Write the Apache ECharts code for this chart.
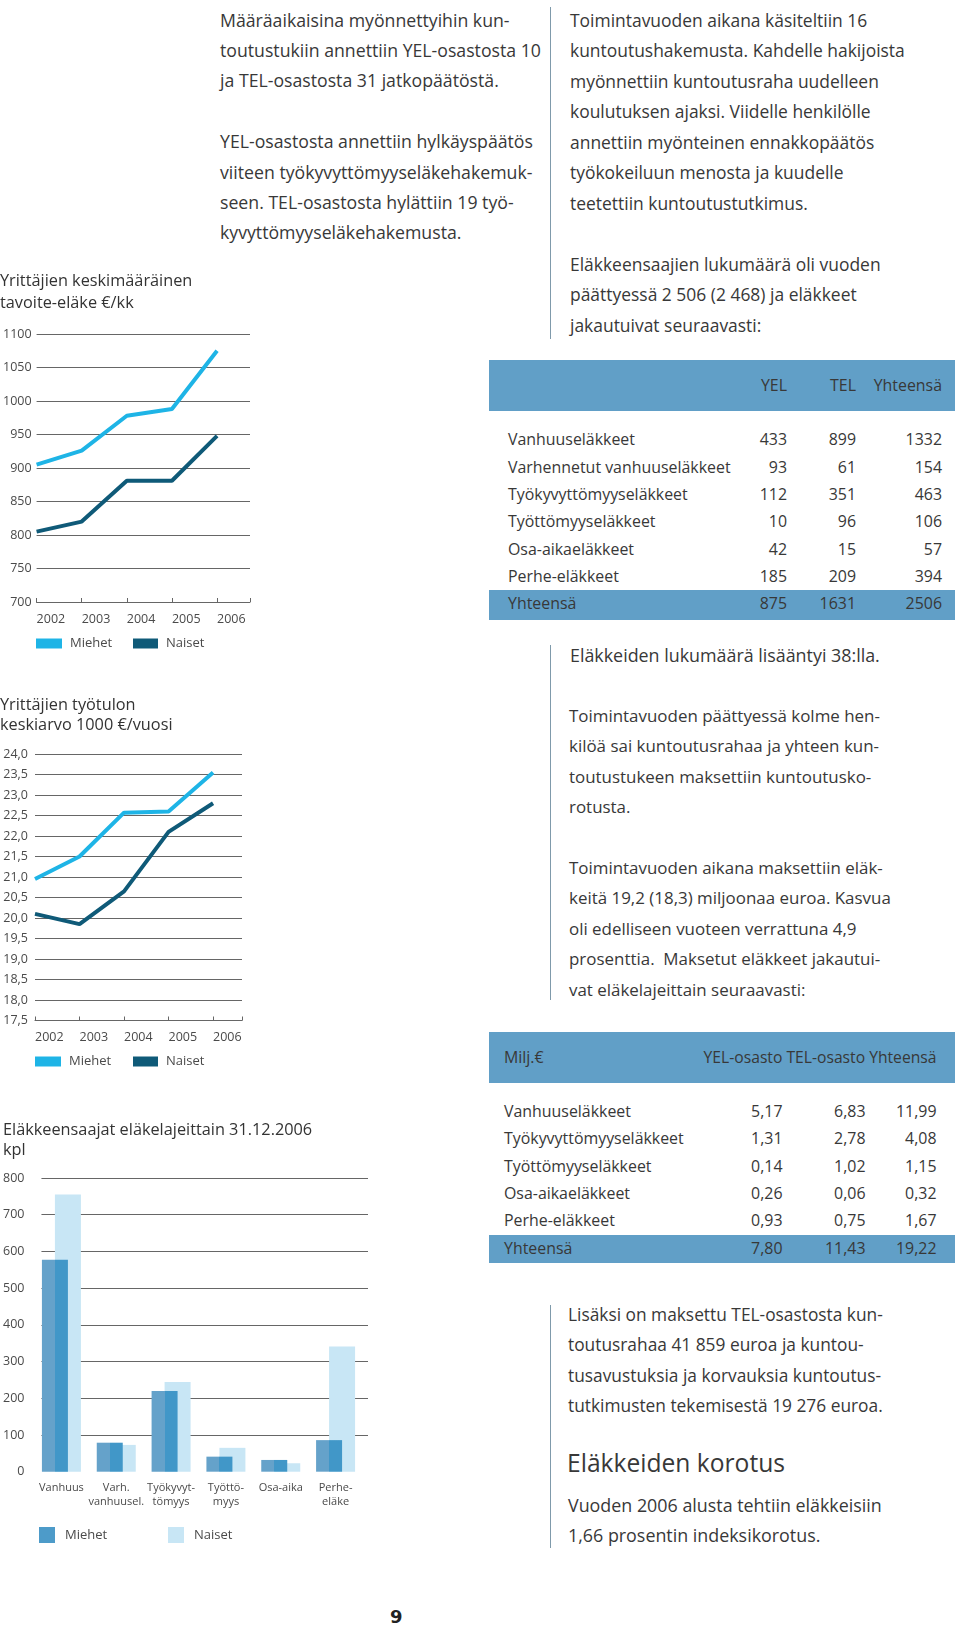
<!DOCTYPE html>
<html><head><meta charset="utf-8">
<script src="https://cdn.jsdelivr.net/npm/echarts@6/dist/echarts.min.js"></script>
<style>
body{margin:0;width:960px;height:1628px;position:relative;background:#fff;font-family:"Open Sans",sans-serif;font-weight:400;color:#383838;overflow:hidden}
.t{position:absolute;white-space:pre;font-size:17px;line-height:30.4px;}
.vl{position:absolute;width:0;border-left:1.5px solid #7f9aab;}
.bar{position:absolute;background:#619fc7;}
.c{position:absolute;white-space:pre;font-size:16px;line-height:22px;height:22px;}
.ch{position:absolute;}
</style></head><body>
<div id="c1" class="ch" style="left:0;top:260px;width:260px;height:400px"></div>
<div id="c2" class="ch" style="left:0;top:690px;width:260px;height:390px"></div>
<div id="c3" class="ch" style="left:0;top:1110px;width:380px;height:450px"></div>
<div id="page"></div>
<script>
// ---------- data ----------
const years = [2002, 2003, 2004, 2005, 2006];
const pensionMen = [905, 926, 978, 988, 1075];
const pensionWomen = [805, 820, 881, 881, 948];
const incomeMen = [20.95, 21.5, 22.57, 22.6, 23.55];
const incomeWomen = [20.1, 19.85, 20.65, 22.1, 22.8];
const pensionTypes = ['Vanhuus', 'Varh.\nvanhuusel.', 'Työkyvyt-\ntömyys', 'Työttö-\nmyys', 'Osa-aika', 'Perhe-\neläke'];
const recipientsMen = [577, 79, 220, 41, 32, 86];
const recipientsWomen = [755, 73, 244, 65, 23, 341];

const table1Head = ['YEL', 'TEL', 'Yhteensä'];
const table1Labels = ['Vanhuuseläkkeet', 'Varhennetut vanhuuseläkkeet', 'Työkyvyttömyyseläkkeet', 'Työttömyyseläkkeet', 'Osa-aikaeläkkeet', 'Perhe-eläkkeet', 'Yhteensä'];
const table1YEL = ['433', '93', '112', '10', '42', '185', '875'];
const table1TEL = ['899', '61', '351', '96', '15', '209', '1631'];
const table1Tot = ['1332', '154', '463', '106', '57', '394', '2506'];

const table2Head = ['YEL-osasto', 'TEL-osasto', 'Yhteensä'];
const table2Labels = ['Vanhuuseläkkeet', 'Työkyvyttömyyseläkkeet', 'Työttömyyseläkkeet', 'Osa-aikaeläkkeet', 'Perhe-eläkkeet', 'Yhteensä'];
const table2YEL = ['5,17', '1,31', '0,14', '0,26', '0,93', '7,80'];
const table2TEL = ['6,83', '2,78', '1,02', '0,06', '0,75', '11,43'];
const table2Tot = ['11,99', '4,08', '1,15', '0,32', '1,67', '19,22'];

// ---------- page text ----------
const FONT = 'Open Sans';
const page = document.getElementById('page');
function add(text, cls, style, targetW) {
  const d = document.createElement('div');
  d.className = cls; d.style.cssText = style; d.textContent = text; page.appendChild(d);
  if (targetW) {
    const fs = parseFloat(getComputedStyle(d).fontSize);
    const w = d.getBoundingClientRect().width;
    if (w > 0) d.style.fontSize = (fs * targetW / w).toFixed(2) + 'px';
  }
  return d;
}
add('Määräaikaisina myönnettyihin kun-\ntoutustukiin annettiin YEL-osastosta 10\nja TEL-osastosta 31 jatkopäätöstä.\n\nYEL-osastosta annettiin hylkäyspäätös\nviiteen työkyvyttömyyseläkehakemuk-\nseen. TEL-osastosta hylättiin 19 työ-\nkyvyttömyyseläkehakemusta.', 't', 'left:220px;top:4.5px;line-height:30.4px', 321);
add('Toimintavuoden aikana käsiteltiin 16\nkuntoutushakemusta. Kahdelle hakijoista\nmyönnettiin kuntoutusraha uudelleen\nkoulutuksen ajaksi. Viidelle henkilölle\nannettiin myönteinen ennakkopäätös\ntyökokeiluun menosta ja kuudelle\nteetettiin kuntoutustutkimus.\n\nEläkkeensaajien lukumäärä oli vuoden\npäättyessä 2 506 (2 468) ja eläkkeet\njakautuivat seuraavasti:', 't', 'left:570px;top:4.5px;line-height:30.5px', 335);
add('Eläkkeiden lukumäärä lisääntyi 38:lla.', 't', 'left:570px;top:640px', 310);
add('Toimintavuoden päättyessä kolme hen-\nkilöä sai kuntoutusrahaa ja yhteen kun-\ntoutustukeen maksettiin kuntoutusko-\nrotusta.\n\nToimintavuoden aikana maksettiin eläk-\nkeitä 19,2 (18,3) miljoonaa euroa. Kasvua\noli edelliseen vuoteen verrattuna 4,9\nprosenttia.  Maksetut eläkkeet jakautui-\nvat eläkelajeittain seuraavasti:', 't', 'left:569px;top:701px', 322);
add('Lisäksi on maksettu TEL-osastosta kun-\ntoutusrahaa 41 859 euroa ja kuntou-\ntusavustuksia ja korvauksia kuntoutus-\ntutkimusten tekemisestä 19 276 euroa.', 't', 'left:568px;top:1299px;line-height:30.4px', 315);
add('Eläkkeiden korotus', 't', 'left:567px;top:1444px;font-size:27px;line-height:38px', 218);
add('Vuoden 2006 alusta tehtiin eläkkeisiin\n1,66 prosentin indeksikorotus.', 't', 'left:568px;top:1490px;line-height:30px', 314);
add('9', 't', 'left:390px;top:1604px;font-family:"DejaVu Sans";font-weight:bold;font-size:18px;line-height:26px;color:#222');
// vertical rules
add('', 'vl', 'left:550px;top:7px;height:332px');
add('', 'vl', 'left:550px;top:645px;height:355px');
add('', 'vl', 'left:550px;top:1305px;height:243px');

// tables
const probe = add('Varhennetut vanhuuseläkkeet', 'c', 'left:0;top:-100px', 222.7);
const TFS = probe.style.fontSize;
function cell(text, x, yc, right) {
  const st = (right ? `left:${x - 300}px;width:300px;text-align:right;` : `left:${x}px;`) + `top:${yc - 11}px;font-size:${TFS}`;
  return add(text, 'c', st);
}
add('', 'bar', 'left:489px;top:360px;width:466px;height:51px');
add('', 'bar', 'left:489px;top:590px;width:466px;height:30px');
const t1Cols = [787, 856, 942];
table1Head.forEach((h, i) => cell(h, t1Cols[i], 385, true));
const t1Rows = [439, 466.5, 494, 521, 548.5, 576, 603];
table1Labels.forEach((l, r) => {
  cell(l, 508, t1Rows[r], false);
  cell(table1YEL[r], t1Cols[0], t1Rows[r], true);
  cell(table1TEL[r], t1Cols[1], t1Rows[r], true);
  cell(table1Tot[r], t1Cols[2], t1Rows[r], true);
});
add('', 'bar', 'left:489px;top:1032px;width:466px;height:51px');
add('', 'bar', 'left:489px;top:1235px;width:466px;height:28px');
const t2Cols = [782.5, 865.5, 936.5];
cell('Milj.€', 504, 1057, false);
// header: one right-aligned line fitted to the reference width
const h2 = add(table2Head.join(' '), 'c', 'left:0;top:-100px', 233);
h2.style.top = (1057 - 11) + 'px';
h2.style.left = (936.5 - h2.getBoundingClientRect().width) + 'px';
const t2Rows = [1110.5, 1138.3, 1166, 1192.7, 1220, 1247.5];
table2Labels.forEach((l, r) => {
  cell(l, 504, t2Rows[r], false);
  cell(table2YEL[r], t2Cols[0], t2Rows[r], true);
  cell(table2TEL[r], t2Cols[1], t2Rows[r], true);
  cell(table2Tot[r], t2Cols[2], t2Rows[r], true);
});

// ---------- charts ----------
const GRID = '#666';
const LBL = '#4a4a4a';
const C_MEN = '#1eb4e6', C_WOMEN = '#0f5a78';
function legendItem(name, left, top, w, h) {
  return { data: [name], left: left, top: top, itemWidth: w, itemHeight: h, icon: 'rect', selectedMode: false,
    padding: 0, textStyle: { fontFamily: FONT, fontSize: 13, color: LBL, padding: [0, 0, 0, 3] } };
}
function lineChart(el, opt) {
  const ch = echarts.init(document.getElementById(el), null, { renderer: 'canvas' });
  ch.setOption({
    animation: false,
    title: { text: opt.title, left: 0, top: opt.titleTop, padding: 0,
      textStyle: { fontFamily: FONT, fontWeight: 'normal', fontSize: 16.3, color: '#333', lineHeight: opt.titleLH } },
    legend: [legendItem('Miehet', opt.grid.left, opt.legendTop, 26, 10), legendItem('Naiset', opt.naisetLeft, opt.legendTop, 25, 10)],
    grid: opt.grid,
    xAxis: { type: 'value', min: years[0], max: opt.xmax, interval: 1,
      axisLine: { show: true, lineStyle: { color: GRID } },
      axisTick: { show: true, inside: true, length: 4, lineStyle: { color: GRID } },
      splitLine: { show: false },
      axisLabel: { formatter: v => Number.isInteger(v) ? String(v) : '', align: 'left', margin: opt.xMargin,
        fontFamily: FONT, fontSize: 12.5, color: LBL, showMaxLabel: true } },
    yAxis: { type: 'value', min: opt.ymin, max: opt.ymax, interval: opt.yint,
      axisLine: { show: false }, axisTick: { show: false },
      splitLine: { lineStyle: { color: GRID, width: 1 } },
      axisLabel: { formatter: opt.yfmt, margin: opt.yMargin, fontFamily: FONT, fontSize: 12.5, color: LBL } },
    series: [
      { name: 'Miehet', type: 'line', data: years.map((y, i) => [y, opt.men[i]]), showSymbol: false, symbol: 'none',
        itemStyle: { color: C_MEN }, lineStyle: { color: C_MEN, width: 4 } },
      { name: 'Naiset', type: 'line', data: years.map((y, i) => [y, opt.women[i]]), showSymbol: false, symbol: 'none',
        itemStyle: { color: C_WOMEN }, lineStyle: { color: C_WOMEN, width: 4 } }
    ]
  });
}
lineChart('c1', {
  title: 'Yrittäjien keskimääräinen\ntavoite-eläke €/kk', titleTop: 10, titleLH: 22,
  grid: { left: 36, top: 74, width: 214, height: 268 },
  xmax: 2006.73, ymin: 700, ymax: 1100, yint: 50, yfmt: v => String(v), yMargin: 5, xMargin: 11,
  legendTop: 377, naisetLeft: 133, men: pensionMen, women: pensionWomen
});
lineChart('c2', {
  title: 'Yrittäjien työtulon\nkeskiarvo 1000 €/vuosi', titleTop: 5, titleLH: 20,
  grid: { left: 35, top: 64, width: 207, height: 266.5 },
  xmax: 2006.65, ymin: 17.5, ymax: 24, yint: 0.5, yfmt: v => v.toFixed(1).replace('.', ','), yMargin: 7, xMargin: 10,
  legendTop: 365, naisetLeft: 133, men: incomeMen, women: incomeWomen
});

// bar chart
(function () {
  const ch = echarts.init(document.getElementById('c3'));
  const gridTop = 68, gridH = 293.7;
  const lineColors = ['rgba(0,0,0,0)'].concat(Array(8).fill(GRID));
  const menGrad = new echarts.graphic.LinearGradient(0, 0, 1, 0, [
    { offset: 0, color: '#65a2ca' }, { offset: 0.5, color: '#65a2ca' },
    { offset: 0.5, color: '#4197c8' }, { offset: 1, color: '#4197c8' }]);
  ch.setOption({
    animation: false,
    title: { text: 'Eläkkeensaajat eläkelajeittain 31.12.2006\nkpl', left: 3, top: 10, padding: 0,
      textStyle: { fontFamily: FONT, fontWeight: 'normal', fontSize: 16.3, color: '#333', lineHeight: 20 } },
    legend: [
      { data: [{ name: 'Miehet', itemStyle: { color: '#4d9bc9' } }], left: 39, top: 417, itemWidth: 16, itemHeight: 16, icon: 'rect', selectedMode: false, padding: 0,
        textStyle: { fontFamily: FONT, fontSize: 13, color: LBL, padding: [0, 0, 0, 5] } },
      { data: ['Naiset'], left: 168, top: 417, itemWidth: 16, itemHeight: 16, icon: 'rect', selectedMode: false, padding: 0,
        textStyle: { fontFamily: FONT, fontSize: 13, color: LBL, padding: [0, 0, 0, 5] } }
    ],
    grid: [
      { left: 41, top: gridTop, width: 327, height: gridH },
      { left: 34, top: gridTop, width: 329, height: gridH }
    ],
    xAxis: [
      { type: 'category', gridIndex: 0, data: pensionTypes, show: false },
      { type: 'category', gridIndex: 1, data: pensionTypes, axisLine: { show: false }, axisTick: { show: false },
        axisLabel: { interval: 0, margin: 9, fontFamily: FONT, fontSize: 11, lineHeight: 14, color: LBL } }
    ],
    yAxis: [
      { type: 'value', gridIndex: 0, min: 0, max: 800, interval: 100, axisLine: { show: false }, axisTick: { show: false },
        splitLine: { lineStyle: { color: lineColors, width: 1 } },
        axisLabel: { margin: 17, fontFamily: FONT, fontSize: 12.5, color: LBL } },
      { type: 'value', gridIndex: 1, min: 0, max: 800, interval: 100, show: false, splitLine: { show: false } }
    ],
    series: [
      { name: 'Miehet', type: 'bar', xAxisIndex: 1, yAxisIndex: 1, data: recipientsMen, barWidth: 26, barGap: '-50%', z: 3,
        itemStyle: { color: menGrad } },
      { name: 'Naiset', type: 'bar', xAxisIndex: 1, yAxisIndex: 1, data: recipientsWomen, barWidth: 26, z: 2,
        itemStyle: { color: '#c8e6f5' } }
    ]
  });
})();
</script>
</body></html>
